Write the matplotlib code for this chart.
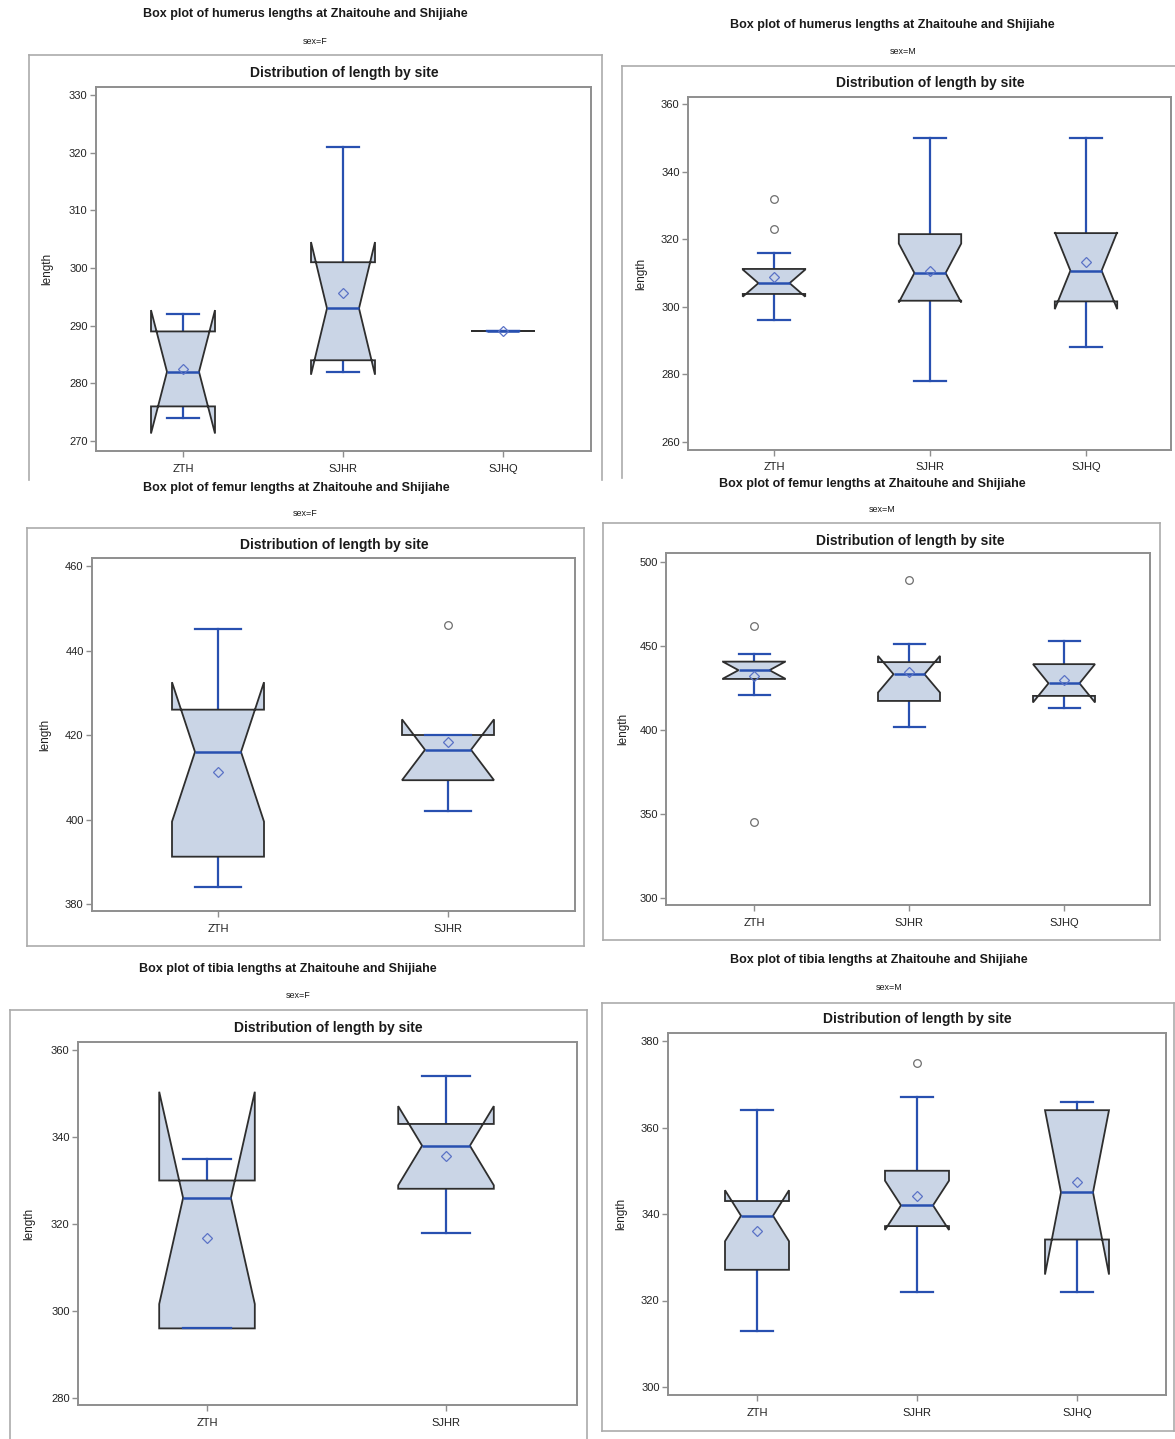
import matplotlib
matplotlib.use("Agg")
import matplotlib.pyplot as plt
from matplotlib.lines import Line2D

plt.rcParams['font.family'] = ['Liberation Sans', 'DejaVu Sans']

W, H = 1175, 1439

# five-number summaries per site: [lower whisker, q1, median, q3, upper whisker]
hum_f_sites = ["ZTH", "SJHR", "SJHQ"]
hum_f_five = [[274, 276, 282, 289, 292], [282, 284, 293, 301, 321], [289, 289, 289, 289, 289]]
hum_f_mean = [282.5, 295.7, 289]
hum_f_notch = [10.7, 11.5, 0]
hum_f_out = [[], [], []]

hum_m_sites = ["ZTH", "SJHR", "SJHQ"]
hum_m_five = [[296, 303.8, 307, 311.2, 316], [278, 301.8, 310, 321.5, 350], [288, 301.6, 310.7, 321.8, 350]]
hum_m_mean = [308.7, 310.5, 313.2]
hum_m_notch = [4.0, 8.7, 11.4]
hum_m_out = [[323, 332], [], []]

fem_f_sites = ["ZTH", "SJHR"]
fem_f_five = [[384, 391.2, 416, 426, 445], [402, 409.3, 416.5, 420, 420]]
fem_f_mean = [411.3, 418.4]
fem_f_notch = [16.5, 7.2]
fem_f_out = [[], [446]]

fem_m_sites = ["ZTH", "SJHR", "SJHQ"]
fem_m_five = [[421, 430.4, 435.6, 440.7, 445], [402, 417.3, 433.2, 440.4, 451], [413, 420.3, 427.8, 439.2, 453]]
fem_m_mean = [432.2, 434.6, 429.8]
fem_m_notch = [5.0, 10.9, 11.4]
fem_m_out = [[345, 462], [489], []]

tib_f_sites = ["ZTH", "SJHR"]
tib_f_five = [[296, 296, 326, 330, 335], [318, 328.1, 338, 343, 354]]
tib_f_mean = [316.7, 335.7]
tib_f_notch = [24.4, 9.1]
tib_f_out = [[], []]

tib_m_sites = ["ZTH", "SJHR", "SJHQ"]
tib_m_five = [[313, 327.1, 339.6, 343, 364], [322, 337.2, 342, 350, 367], [322, 334.1, 345, 364, 366]]
tib_m_mean = [336.1, 344.2, 347.3]
tib_m_notch = [5.9, 5.7, 19.0]
tib_m_out = [[], [375], []]

PANELS = [
    ("humerus", "F", hum_f_sites, hum_f_five, hum_f_mean, hum_f_notch, hum_f_out, [330, 320, 310, 300, 290, 280, 270]),
    ("humerus", "M", hum_m_sites, hum_m_five, hum_m_mean, hum_m_notch, hum_m_out, [360, 340, 320, 300, 280, 260]),
    ("femur", "F", fem_f_sites, fem_f_five, fem_f_mean, fem_f_notch, fem_f_out, [460, 440, 420, 400, 380]),
    ("femur", "M", fem_m_sites, fem_m_five, fem_m_mean, fem_m_notch, fem_m_out, [500, 450, 400, 350, 300]),
    ("tibia", "F", tib_f_sites, tib_f_five, tib_f_mean, tib_f_notch, tib_f_out, [360, 340, 320, 300, 280]),
    ("tibia", "M", tib_m_sites, tib_m_five, tib_m_mean, tib_m_notch, tib_m_out, [380, 360, 340, 320, 300]),
]

# page geometry in pixels (top-left origin)
# title xy, sex xy, frame (l, t, r, b), subtitle xy, axes (l, t, r, b), ylabel x,
# y calibration (top tick px, bottom tick px), x calibration (first px, last px)
LAYOUT = [
    dict(title=(305, 14), sex=(315, 42), frame=(29, 55, 602, 480), open_bottom=True, sub=(344, 73),
         axes=(96, 87, 591, 451), ylab=47, ycal=(95, 441), xcal=(183, 503)),
    dict(title=(892, 25), sex=(903, 51), frame=(622, 66, 1190, 478), open_bottom=True, sub=(930, 83),
         axes=(688, 97, 1171, 450), ylab=641, ycal=(104, 442), xcal=(774, 1086)),
    dict(title=(296, 488), sex=(305, 514), frame=(27, 528, 584, 946), open_bottom=False, sub=(334, 545),
         axes=(92, 558, 575, 911), ylab=45, ycal=(566, 904), xcal=(218, 448)),
    dict(title=(872, 484), sex=(882, 510), frame=(603, 523, 1160, 940), open_bottom=False, sub=(910, 541),
         axes=(666, 553, 1150, 905), ylab=623, ycal=(562, 898), xcal=(754, 1064)),
    dict(title=(288, 969), sex=(298, 995), frame=(10, 1010, 587, 1450), open_bottom=True, sub=(328, 1028),
         axes=(78, 1042, 577, 1405), ylab=29, ycal=(1050, 1398), xcal=(207, 446)),
    dict(title=(879, 960), sex=(889, 987), frame=(602, 1003, 1174, 1431), open_bottom=False, sub=(917, 1019),
         axes=(668, 1033, 1166, 1395), ylab=621, ycal=(1041, 1387), xcal=(757, 1077)),
]

FILL = '#CAD5E6'
EDGE = '#2E2E2E'
BLUE = '#2850B0'
MEANC = '#5A72C6'
FRAME = '#ABABAB'
SPINE = '#8E8E8E'


def fx(x):
    return x / W


def fy(y):
    return 1 - y / H


def draw_frame(fig, l, t, r, b, open_bottom):
    kw = dict(color=FRAME, lw=1.2, transform=fig.transFigure)
    fig.add_artist(Line2D([fx(l), fx(r)], [fy(t), fy(t)], **kw))
    fig.add_artist(Line2D([fx(l), fx(l)], [fy(t), fy(b)], **kw))
    fig.add_artist(Line2D([fx(r), fx(r)], [fy(t), fy(b)], **kw))
    if not open_bottom:
        fig.add_artist(Line2D([fx(l), fx(r)], [fy(b), fy(b)], **kw))


def make_stats(five, means, notch, outs):
    stats = []
    for f, m, n, o in zip(five, means, notch, outs):
        stats.append(dict(whislo=f[0], q1=f[1], med=f[2], q3=f[3], whishi=f[4],
                          mean=m, cilo=f[2] - n, cihi=f[2] + n, fliers=o))
    return stats


fig = plt.figure(figsize=(W / 100, H / 100), dpi=100)

for (bone, sex, sites, five, means, notch, outs, yticks), lay in zip(PANELS, LAYOUT):
    fig.text(fx(lay['title'][0]), fy(lay['title'][1]),
             'Box plot of %s lengths at Zhaitouhe and Shijiahe' % bone,
             ha='center', va='center', fontsize=9, fontweight='bold', color='#1a1a1a')
    fig.text(fx(lay['sex'][0]), fy(lay['sex'][1]), 'sex=%s' % sex,
             ha='center', va='center', fontsize=6.5, color='#1a1a1a')
    draw_frame(fig, *lay['frame'], lay['open_bottom'])
    fig.text(fx(lay['sub'][0]), fy(lay['sub'][1]), 'Distribution of length by site',
             ha='center', va='center', fontsize=10, fontweight='bold', color='#1a1a1a')

    l, t, r, b = lay['axes']
    ax = fig.add_axes([fx(l), fy(b), (r - l) / W, (b - t) / H])

    # axis limits from the tick calibration
    ptop, pbot = lay['ycal']
    upp = (yticks[0] - yticks[-1]) / (pbot - ptop)
    ax.set_ylim(yticks[-1] - (b - pbot) * upp, yticks[0] + (ptop - t) * upp)
    n = len(sites)
    c1, c2 = lay['xcal']
    per = (n - 1) / (c2 - c1)
    ax.set_xlim(1 - (c1 - l) * per, n + (r - c2) * per)

    ax.bxp(make_stats(five, means, notch, outs), positions=range(1, n + 1), widths=0.4,
           shownotches=True, showmeans=True, patch_artist=True,
           boxprops=dict(facecolor=FILL, edgecolor=EDGE, linewidth=1.3, zorder=2),
           whiskerprops=dict(color=BLUE, linewidth=1.6, zorder=1.5),
           capprops=dict(color=BLUE, linewidth=1.6, zorder=3),
           medianprops=dict(color=BLUE, linewidth=1.8, zorder=3),
           meanprops=dict(marker='D', markersize=5.5, markerfacecolor='none',
                          markeredgecolor=MEANC, markeredgewidth=0.9, zorder=4),
           flierprops=dict(marker='o', markersize=5.5, markerfacecolor='none',
                           markeredgecolor='#6E6E6E', markeredgewidth=0.9))

    ax.set_xticks(range(1, n + 1))
    ax.set_xticklabels(sites)
    ax.set_yticks(yticks)
    ax.tick_params(axis='both', labelsize=8, colors=SPINE, labelcolor='#222222',
                   length=4, width=1.0, direction='out')
    ax.tick_params(axis='x', pad=5)
    ax.tick_params(axis='y', pad=2)
    for s in ax.spines.values():
        s.set_color(SPINE)
        s.set_linewidth(1.4)
    fig.text(fx(lay['ylab']), fy((t + b) / 2), 'length', rotation=90,
             ha='center', va='center', fontsize=8.5, color='#222222')

fig.savefig('out.png', dpi=100)
